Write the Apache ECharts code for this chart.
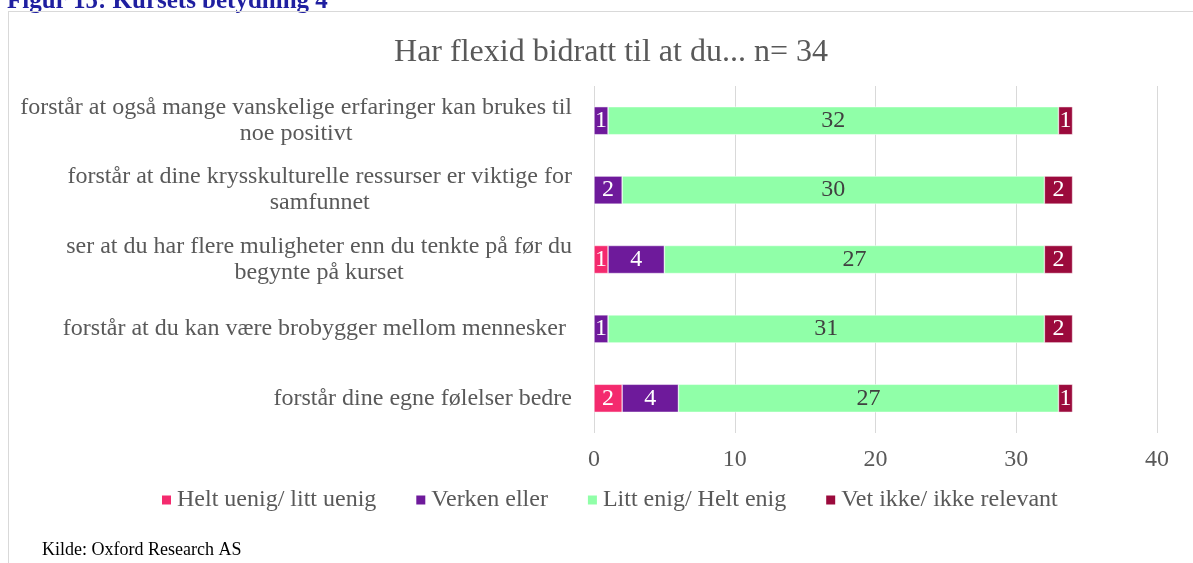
<!DOCTYPE html>
<html>
<head>
<meta charset="utf-8">
<script src="https://cdn.jsdelivr.net/npm/echarts@6/dist/echarts.min.js"></script>
<style>
html,body{margin:0;padding:0;background:#fff;}
#chart{width:1193px;height:563px;position:relative;}
#frame{position:absolute;left:8px;top:11px;width:1200px;height:600px;border:1px solid #d9d9d9;box-sizing:border-box;pointer-events:none;}
</style>
</head>
<body>
<div id="chart"></div>
<div id="frame"></div>
<script>
var categories = [
  'forstår at også mange vanskelige erfaringer kan brukes til\nnoe positivt',
  'forstår at dine krysskulturelle ressurser er viktige for\nsamfunnet',
  'ser at du har flere muligheter enn du tenkte på før du\nbegynte på kurset',
  'forstår at du kan være brobygger mellom mennesker ',
  'forstår dine egne følelser bedre'
];
var seriesNames = ['Helt uenig/ litt uenig', 'Verken eller', 'Litt enig/ Helt enig', 'Vet ikke/ ikke relevant'];
var heltUenig = [0, 0, 1, 0, 2];
var verken    = [1, 2, 4, 1, 4];
var littEnig  = [32, 30, 27, 31, 27];
var vetIkke   = [1, 2, 2, 2, 1];
var xTicks = [0, 10, 20, 30, 40];
var titleText = 'Har flexid bidratt til at du... n= 34';
var figureText = 'Figur 15: Kursets betydning 4';
var sourceText = 'Kilde: Oxford Research AS';

var colors = ['#F42A6E', '#6E1A9B', '#90FFA8', '#9B0A3C'];
var labelColors = ['#ffffff', '#ffffff', '#404040', '#ffffff'];
var font = '"Liberation Serif", "Times New Roman", serif';
var values = [heltUenig, verken, littEnig, vetIkke];

var chart = echarts.init(document.getElementById('chart'), null, {renderer: 'canvas'});
var series = seriesNames.map(function (name, i) {
  return {
    name: name,
    type: 'bar',
    stack: 'total',
    barWidth: 28,
    itemStyle: {color: colors[i], borderColor: '#ffffff', borderWidth: 0.5},
    label: {
      show: true,
      position: 'inside',
      color: labelColors[i],
      fontFamily: font,
      fontSize: 24,
      formatter: function (p) { return p.value ? String(p.value) : ''; }
    },
    data: values[i]
  };
});

chart.setOption({
  animation: false,
  textStyle: {fontFamily: font},
  title: [
    {text: titleText, left: 606, top: 32, textAlign: 'center',
     textStyle: {fontFamily: font, fontSize: 32, fontWeight: 'normal', color: '#595959'}},
    {text: sourceText, left: 37, top: 536,
     textStyle: {fontFamily: font, fontSize: 18, fontWeight: 'normal', color: '#000000'}}
  ],
  graphic: [
    {type: 'text', left: 7, top: -11,
     style: {text: figureText, fontFamily: font, fontSize: 25, fontWeight: 'bold', fill: '#1F1FA0'}}
  ],
  legend: {
    data: seriesNames,
    left: 155,
    top: 483,
    icon: 'rect',
    itemWidth: 11,
    itemHeight: 11,
    itemGap: 38,
    textStyle: {fontFamily: font, fontSize: 24, color: '#595959'}
  },
  grid: {left: 594, right: 36, top: 86, bottom: 130, containLabel: false},
  xAxis: {
    type: 'value',
    min: xTicks[0],
    max: xTicks[xTicks.length - 1],
    interval: xTicks[1] - xTicks[0],
    axisLine: {show: false},
    axisTick: {show: false},
    splitLine: {show: true, lineStyle: {color: '#d9d9d9', width: 1}},
    axisLabel: {fontFamily: font, fontSize: 24, color: '#595959', margin: 15}
  },
  yAxis: {
    type: 'category',
    inverse: true,
    data: categories,
    axisLine: {show: false},
    axisTick: {show: false},
    axisLabel: {
      margin: 22,
      align: 'right',
      formatter: function (v) {
        return v.split('\n').map(function (l) { return '{c|' + l + '}'; }).join('\n');
      },
      rich: {c: {align: 'center', fontFamily: font, fontSize: 24, lineHeight: 26, color: '#595959'}}
    }
  },
  series: series
});
</script>
</body>
</html>
